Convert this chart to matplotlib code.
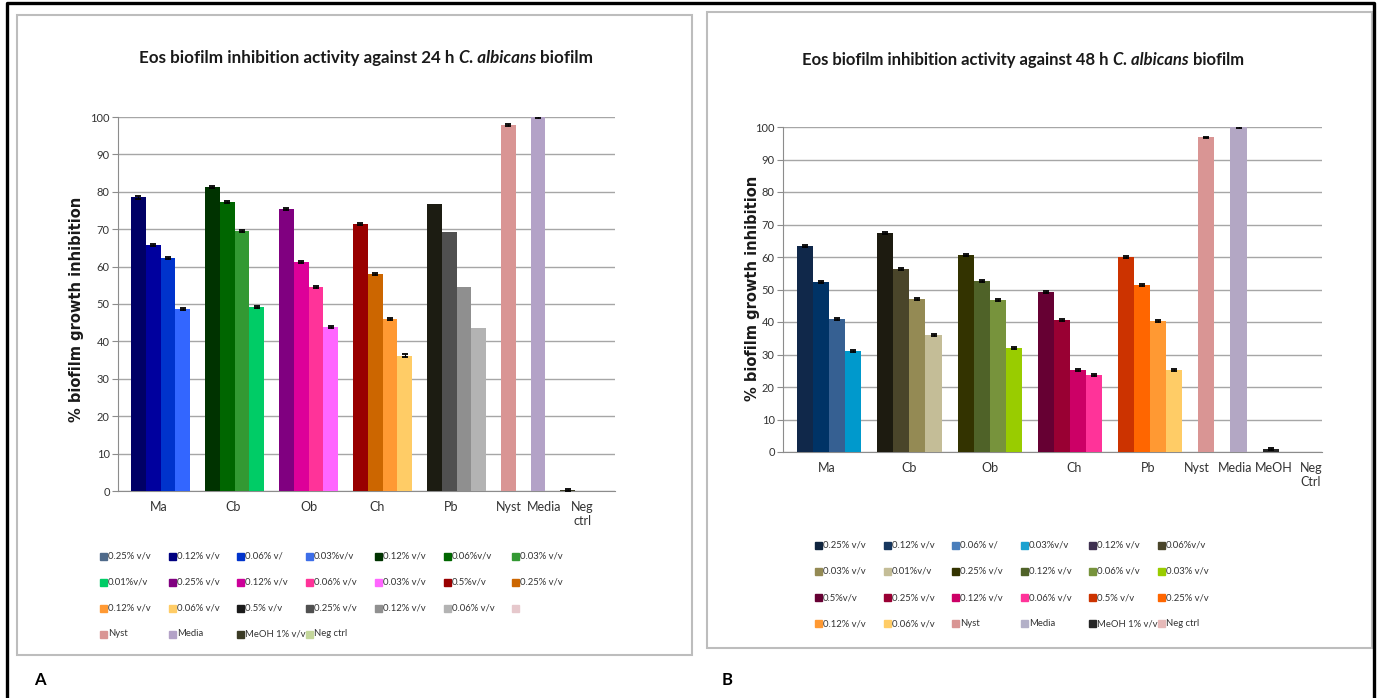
import matplotlib
matplotlib.use('Agg')
import numpy as np
import matplotlib.pyplot as plt
from matplotlib import font_manager
from matplotlib.patches import Rectangle
from matplotlib.lines import Line2D

# ---- 24 h biofilm ----
cats_24 = ['Ma', 'Cb', 'Ob', 'Ch', 'Pb', 'Nyst', 'Media', 'Neg\nctrl']
ma_24 = [78.5, 65.8, 62.3, 48.6]
cb_24 = [81.3, 77.2, 69.6, 49.1]
ob_24 = [75.4, 61.3, 54.6, 43.8]
ch_24 = [71.4, 58.0, 46.0, 36.2]
pb_24 = [76.7, 69.2, 54.6, 43.5]
nyst_24 = [97.9]
media_24 = [100.0]
neg_24 = [0.2]
sem_24 = [0.3, 0.3, 0.3, 0.3, 0.0, 0.2, 0.2, 0.3]
label_shift_24 = [-0.1, -0.1, 0.0, -0.4, -0.4, 0.0, 0.4, 1.0]

colors_24 = [['#000066', '#00009e', '#0033cc', '#3366ff'],
             ['#003300', '#006600', '#339933', '#00cc66'],
             ['#800080', '#dd0099', '#ff3399', '#ff66ff'],
             ['#990000', '#cc6600', '#ff9933', '#ffcc66'],
             ['#1c1c12', '#505050', '#8f8f8f', '#b3b3b3'],
             ['#d99594'], ['#b3a2c7'], ['#3b3b25']]

leg_labels_24 = ['0.25% v/v', '0.12% v/v', '0.06% v/', '0.03%v/v', '0.12% v/v', '0.06%v/v', '0.03% v/v',
                 '0.01%v/v', '0.25% v/v', '0.12% v/v', '0.06% v/v', '0.03% v/v', '0.5%v/v', '0.25% v/v',
                 '0.12% v/v', '0.06% v/v', '0.5% v/v', '0.25% v/v', '0.12% v/v', '0.06% v/v', '',
                 'Nyst', 'Media', 'MeOH 1% v/v', 'Neg ctrl']
leg_colors_24 = ['#4f6a8a', '#000080', '#0033cc', '#3d6ee8', '#003300', '#006600', '#339933',
                 '#00cc66', '#800080', '#cc0099', '#ff3399', '#ff66ff', '#990000', '#cc6600',
                 '#ff9933', '#ffcc66', '#1a1a1a', '#505050', '#909090', '#b3b3b3', '#e6c8cc',
                 '#d99594', '#b3a2c7', '#3b3b25', '#c4d79b']

# ---- 48 h biofilm ----
cats_48 = ['Ma', 'Cb', 'Ob', 'Ch', 'Pb', 'Nyst', 'Media', 'MeOH', 'Neg\nCtrl']
ma_48 = [63.5, 52.2, 40.9, 31.0]
cb_48 = [67.5, 56.2, 47.0, 36.1]
ob_48 = [60.5, 52.6, 46.7, 32.1]
ch_48 = [49.1, 40.6, 25.2, 23.6]
pb_48 = [59.9, 51.3, 40.3, 25.3]
nyst_48 = [96.8]
media_48 = [100.0]
meoh_48 = [0.9]
neg_48 = [0.0]
sem_48 = [0.3, 0.3, 0.3, 0.3, 0.3, 0.2, 0.2, 0.3, 0.0]
label_shift_48 = [-0.15, 0.0, 0.0, 0.25, -0.1, -0.6, -0.2, 0.2, 0.5]

colors_48 = [['#10284a', '#003366', '#366092', '#0099cc'],
             ['#1d1b10', '#4a452a', '#948a54', '#c4bd97'],
             ['#333300', '#4f6228', '#77933c', '#99cc00'],
             ['#660033', '#990033', '#cc0066', '#ff3399'],
             ['#cc3300', '#ff6600', '#ff9933', '#ffcc66'],
             ['#d99594'], ['#b3a7c4'], ['#262626'], ['#e6b9b8']]

leg_labels_48 = ['0.25% v/v', '0.12% v/v', '0.06% v/', '0.03%v/v', '0.12% v/v', '0.06%v/v',
                 '0.03% v/v', '0.01%v/v', '0.25% v/v', '0.12% v/v', '0.06% v/v', '0.03% v/v',
                 '0.5%v/v', '0.25% v/v', '0.12% v/v', '0.06% v/v', '0.5% v/v', '0.25% v/v',
                 '0.12% v/v', '0.06% v/v', 'Nyst', 'Media', 'MeOH 1% v/v', 'Neg ctrl']
leg_colors_48 = ['#0f243e', '#17375e', '#4a7ebb', '#1aa1d0', '#3f3151', '#4a452a',
                 '#948a54', '#c4bd97', '#333300', '#4f6228', '#77933c', '#99cc00',
                 '#660033', '#990033', '#cc0066', '#ff3399', '#cc3300', '#ff6600',
                 '#ff9933', '#ffcc66', '#d99594', '#b3b0c8', '#262626', '#e6b9b8']

W, H = 1377, 698
fig = plt.figure(figsize=(W / 100, H / 100), dpi=100)
names = {f.name for f in font_manager.fontManager.ttflist}
SANS = 'Lato' if 'Lato' in names else 'DejaVu Sans'
renderer = fig.canvas.get_renderer()
TXT = '#333333'


def fx(x):
    return x / W


def fy(y):
    return 1 - y / H


def draw_panel(left, top, right, bottom, groups, colors, sems, cats, shifts):
    ax = fig.add_axes([fx(left), fy(bottom), fx(right - left), (bottom - top) / H])
    pos = 0
    ticks = []
    for vals, cols, sem, sh in zip(groups, colors, sems, shifts):
        xs = pos + np.arange(len(vals))
        ax.bar(xs, vals, width=1.0, color=cols, linewidth=0, zorder=3)
        if sem > 0:
            ax.errorbar(xs, vals, yerr=sem, fmt='none', ecolor='black',
                        elinewidth=0.8, capsize=2, capthick=1.3, zorder=4)
        ticks.append(xs.mean() + sh)
        pos += len(vals) + 1
    ax.set_xlim(-1.375, 32.2)
    ax.set_ylim(0, 100)
    ax.set_yticks(range(0, 101, 10))
    ax.yaxis.grid(True, color='#a6a6a6', lw=1, zorder=0)
    ax.set_axisbelow(True)
    ax.set_xticks(ticks, cats)
    ax.tick_params(axis='x', length=0, pad=7, labelsize=9, labelcolor=TXT)
    ax.tick_params(axis='y', length=4, color='#8c8c8c', labelsize=8, labelcolor=TXT, pad=2)
    for lab in ax.get_xticklabels() + ax.get_yticklabels():
        lab.set_family(SANS)
    for s in ('top', 'right'):
        ax.spines[s].set_visible(False)
    for s in ('left', 'bottom'):
        ax.spines[s].set_color('#8c8c8c')
    return ax


def rich_title(parts, cx, cy, target_w, base=13):
    def widths(size):
        ws = []
        for s, style in parts:
            t = fig.text(0, 0, s, fontsize=size, fontweight='bold', fontstyle=style, family=SANS)
            ws.append(t.get_window_extent(renderer).width)
            t.remove()
        a = fig.text(0, 0, 'x x', fontsize=size, fontweight='bold', family=SANS)
        b = fig.text(0, 0, 'xx', fontsize=size, fontweight='bold', family=SANS)
        gap = a.get_window_extent(renderer).width - b.get_window_extent(renderer).width
        a.remove()
        b.remove()
        return ws, gap

    ws, gap = widths(base)
    size = base * target_w / (sum(ws) + gap * (len(ws) - 1))
    ws, gap = widths(size)
    x = cx - (sum(ws) + gap * (len(ws) - 1)) / 2
    for (s, style), w in zip(parts, ws):
        fig.text(fx(x), fy(cy), s, fontsize=size, fontweight='bold', fontstyle=style,
                 family=SANS, ha='left', va='center', color='#1a1a1a')
        x += w + gap


def draw_legend(labels, colors, x0, y0, dx, dy, ncol):
    for i, (lab, c) in enumerate(zip(labels, colors)):
        r, k = divmod(i, ncol)
        x = x0 + k * dx
        y = y0 + r * dy
        fig.patches.append(Rectangle((fx(x), fy(y + 3.5)), 7 / W, 7 / H, color=c,
                                     transform=fig.transFigure, figure=fig))
        if lab:
            fig.text(fx(x + 8), fy(y), lab, fontsize=6.8, family=SANS, color=TXT,
                     ha='left', va='center')


# outer black frame (left, top, right edges)
frame_x = [7, 7, 1374, 1374]
frame_y = [698, 3, 3, 698]
fig.add_artist(Line2D([fx(v) for v in frame_x], [fy(v) for v in frame_y],
                      color='black', lw=2.4, transform=fig.transFigure))
# light grey chart-area boxes
for l, t, r, b in ((17, 15, 692, 655), (707, 12, 1372, 648)):
    fig.patches.append(Rectangle((fx(l), fy(b)), fx(r - l), (b - t) / H, fill=False,
                                 edgecolor='#bdbdbd', lw=1.5, transform=fig.transFigure, figure=fig))

# panel A: 24 h
draw_panel(118, 117, 615, 491,
           [ma_24, cb_24, ob_24, ch_24, pb_24, nyst_24, media_24, neg_24],
           colors_24, sem_24, cats_24, label_shift_24)
rich_title([('Eos biofilm inhibition activity against 24 h', 'normal'),
            ('C. albicans', 'italic'), ('biofilm', 'normal')], 366, 58, 452)
fig.text(fx(77), fy(309), '% biofilm growth inhibition', rotation=90, fontsize=10.5,
         fontweight='bold', family='DejaVu Sans', ha='center', va='center', color='#1a1a1a')
draw_legend(leg_labels_24, leg_colors_24, 100, 556, 68.7, 26, 7)

# panel B: 48 h
draw_panel(783, 127, 1322, 452,
           [ma_48, cb_48, ob_48, ch_48, pb_48, nyst_48, media_48, meoh_48, neg_48],
           colors_48, sem_48, cats_48, label_shift_48)
rich_title([('Eos biofilm inhibition activity against 48 h', 'normal'),
            ('C. albicans', 'italic'), ('biofilm', 'normal')], 1023, 60, 445)
fig.text(fx(752), fy(288), '% biofilm growth inhibition', rotation=90, fontsize=10.5,
         fontweight='bold', family='DejaVu Sans', ha='center', va='center', color='#1a1a1a')
draw_legend(leg_labels_48, leg_colors_48, 815, 545, 68.6, 26.3, 6)

# panel letters
fig.text(fx(40), fy(680), 'A', fontsize=12, fontweight='bold', family=SANS, ha='center', va='center')
fig.text(fx(727), fy(680), 'B', fontsize=12, fontweight='bold', family=SANS, ha='center', va='center')

fig.savefig('out.png', dpi=100)
